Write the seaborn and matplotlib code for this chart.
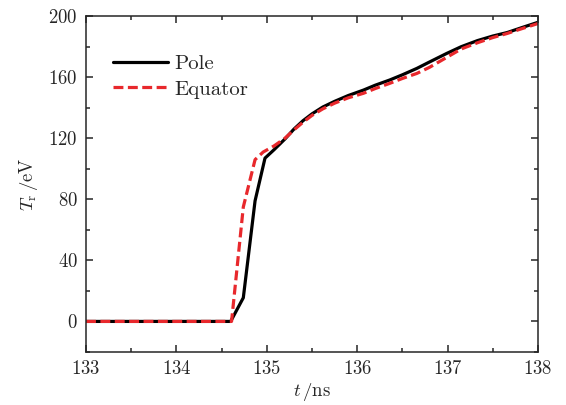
import matplotlib
matplotlib.use("Agg")
import matplotlib.pyplot as plt
from matplotlib.ticker import MultipleLocator
import seaborn as sns
import pandas as pd

# Radiation temperature histories at the pole and at the equator
pole_t = [133.0, 134.60, 134.74, 134.87, 134.98, 135.08, 135.20, 135.30, 135.40,
          135.50, 135.62, 135.75, 135.90, 136.07, 136.20, 136.36, 136.50, 136.66,
          136.80, 136.99, 137.15, 137.33, 137.50, 137.66, 137.82, 138.0]
pole_T = [0, 0, 15.5, 79, 107, 112.5, 119.5, 126, 131.5,
          136, 140.5, 144.2, 148, 151.6, 154.8, 158.2, 161.6, 165.8,
          170, 175.6, 180, 184, 187, 189.3, 192.5, 196]

equator_t = [133.0, 134.61, 134.74, 134.87, 134.96, 135.08, 135.20, 135.30, 135.40,
             135.50, 135.62, 135.75, 135.90, 136.07, 136.20, 136.36, 136.50, 136.66,
             136.80, 136.99, 137.15, 137.33, 137.50, 137.66, 137.82, 138.0]
equator_T = [0, 0, 75, 106, 111, 115, 120, 125.5, 130.5,
             135, 139.3, 143, 146.5, 149.5, 152.6, 156, 159.2, 162.5,
             166.5, 173, 178.5, 182.6, 186, 188.7, 191.8, 195.2]

x_ticks = [133, 134, 135, 136, 137, 138]
y_ticks = [0, 40, 80, 120, 160, 200]

sns.set_style("ticks")
plt.rcParams["font.family"] = ["cmr10"]
plt.rcParams["mathtext.fontset"] = "cm"
plt.rcParams["axes.formatter.use_mathtext"] = True

pole = pd.DataFrame({"t": pole_t, "T": pole_T})
equator = pd.DataFrame({"t": equator_t, "T": equator_T})

fig = plt.figure(figsize=(5.66, 4.05), dpi=100)
ax = fig.add_axes([0.152, 0.131, 0.7985, 0.829])

sns.lineplot(data=pole, x="t", y="T", ax=ax, color="black", lw=2.3,
             label="Pole", sort=False)
sns.lineplot(data=equator, x="t", y="T", ax=ax, color="#e8282c", lw=2.3,
             label="Equator", sort=False, linestyle=(0, (3.1, 1.4)))

ax.set_xlim(133, 138)
ax.set_ylim(-20, 200)
ax.set_xticks(x_ticks)
ax.set_yticks(y_ticks)
ax.xaxis.set_minor_locator(MultipleLocator(0.5))
ax.yaxis.set_minor_locator(MultipleLocator(20))
ax.tick_params(which="both", direction="in", top=True, right=True,
               labelsize=13.5, width=1.1, pad=6)
ax.tick_params(which="major", length=5)
ax.tick_params(which="minor", length=3)
for s in ax.spines.values():
    s.set_linewidth(1.1)

ax.set_xlabel(r"$t\,/\mathrm{ns}$", fontsize=13.5, labelpad=2)
ax.set_ylabel(r"$T_\mathrm{r}\,/\mathrm{eV}$", fontsize=13.5, labelpad=6)

ax.legend(loc="upper left", bbox_to_anchor=(0.06, 0.885), frameon=False,
          fontsize=15, handlelength=2.65, handletextpad=0.3, labelspacing=0.32,
          borderpad=0, borderaxespad=0)

fig.savefig("out.png", dpi=100)
